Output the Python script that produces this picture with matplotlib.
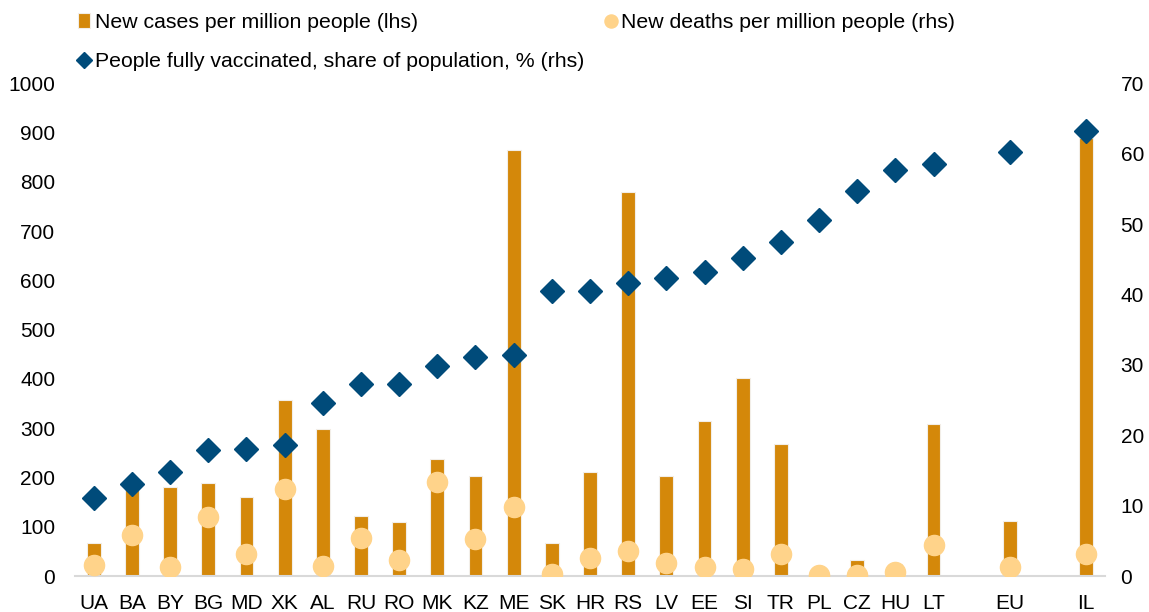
import numpy as np
import matplotlib
matplotlib.use("Agg")
import matplotlib.pyplot as plt

plt.rcParams['font.family'] = ['Liberation Sans', 'DejaVu Sans']

# "" entries are empty slots in the category axis
countries = ["UA", "BA", "BY", "BG", "MD", "XK", "AL", "RU", "RO", "MK", "KZ", "ME",
             "SK", "HR", "RS", "LV", "EE", "SI", "TR", "PL", "CZ", "HU", "LT", "", "EU", "", "IL"]
cases = [67, 178, 180, 189, 160, 357, 298, 122, 110, 237, 203, 864,
         67, 211, 779, 203, 314, 402, 268, 0, 32, 24, 308, np.nan, 112, np.nan, 888]
deaths = [1.6, 5.8, 1.3, 8.4, 3.1, 12.4, 1.4, 5.4, 2.3, 13.4, 5.3, 9.8,
          0.3, 2.6, 3.6, 1.8, 1.3, 1.0, 3.1, 0.1, 0.1, 0.6, 4.4, np.nan, 1.3, np.nan, 3.1]
vaccinated = [11.1, 13.1, 14.8, 17.9, 18.0, 18.6, 24.6, 27.3, 27.3, 29.8, 31.1, 31.4,
              40.5, 40.5, 41.6, 42.3, 43.2, 45.2, 47.4, 50.6, 54.7, 57.7, 58.5, np.nan, 60.2, np.nan, 63.2]

bar_col = "#D4880A"
death_col = "#FFD38A"
vacc_col = "#004B7A"

x = np.arange(len(countries))

fig = plt.figure(figsize=(11.49, 6.12), dpi=100)
ax = fig.add_axes([0.065, 0.0588, 0.897, 0.8052])
ax2 = ax.twinx()

b = ax.bar(x, cases, width=0.36, color=bar_col, edgecolor="#F2EEE8", linewidth=0.8, zorder=2)
d, = ax2.plot(x, deaths, "o", color=death_col, ms=14.5, linestyle="none", zorder=3)
v, = ax2.plot(x, vaccinated, "D", color=vacc_col, ms=12.5, linestyle="none", zorder=4)

ax.set_zorder(1)
ax2.set_zorder(2)
ax.patch.set_visible(False)

ax.set_xlim(-0.5, 26.5)
ax.set_ylim(0, 1000)
ax2.set_ylim(0, 70)
ax.set_yticks(np.arange(0, 1001, 100))
ax2.set_yticks(np.arange(0, 71, 10))
ax.set_xticks(x)
ax.set_xticklabels(countries)

for a in (ax, ax2):
    for s in a.spines.values():
        s.set_visible(False)
    a.tick_params(length=0, labelsize=15, colors="black")
ax.spines["bottom"].set_visible(True)
ax.spines["bottom"].set_color("#D9D9D9")
ax.spines["bottom"].set_linewidth(1.5)
ax.tick_params(axis="y", pad=14)
ax.tick_params(axis="x", pad=13)
ax2.tick_params(axis="y", pad=11)

fig.legend([b, v, d],
           ["New cases per million people (lhs)",
            "People fully vaccinated, share of population, % (rhs)",
            "New deaths per million people (rhs)"],
           ncol=2, loc="upper left", bbox_to_anchor=(0.051, 1.01), frameon=False,
           fontsize=15.3, handlelength=0.6, handletextpad=0.2, columnspacing=0.95,
           labelspacing=0.95, markerscale=0.65)

fig.savefig("out.png", dpi=100)
